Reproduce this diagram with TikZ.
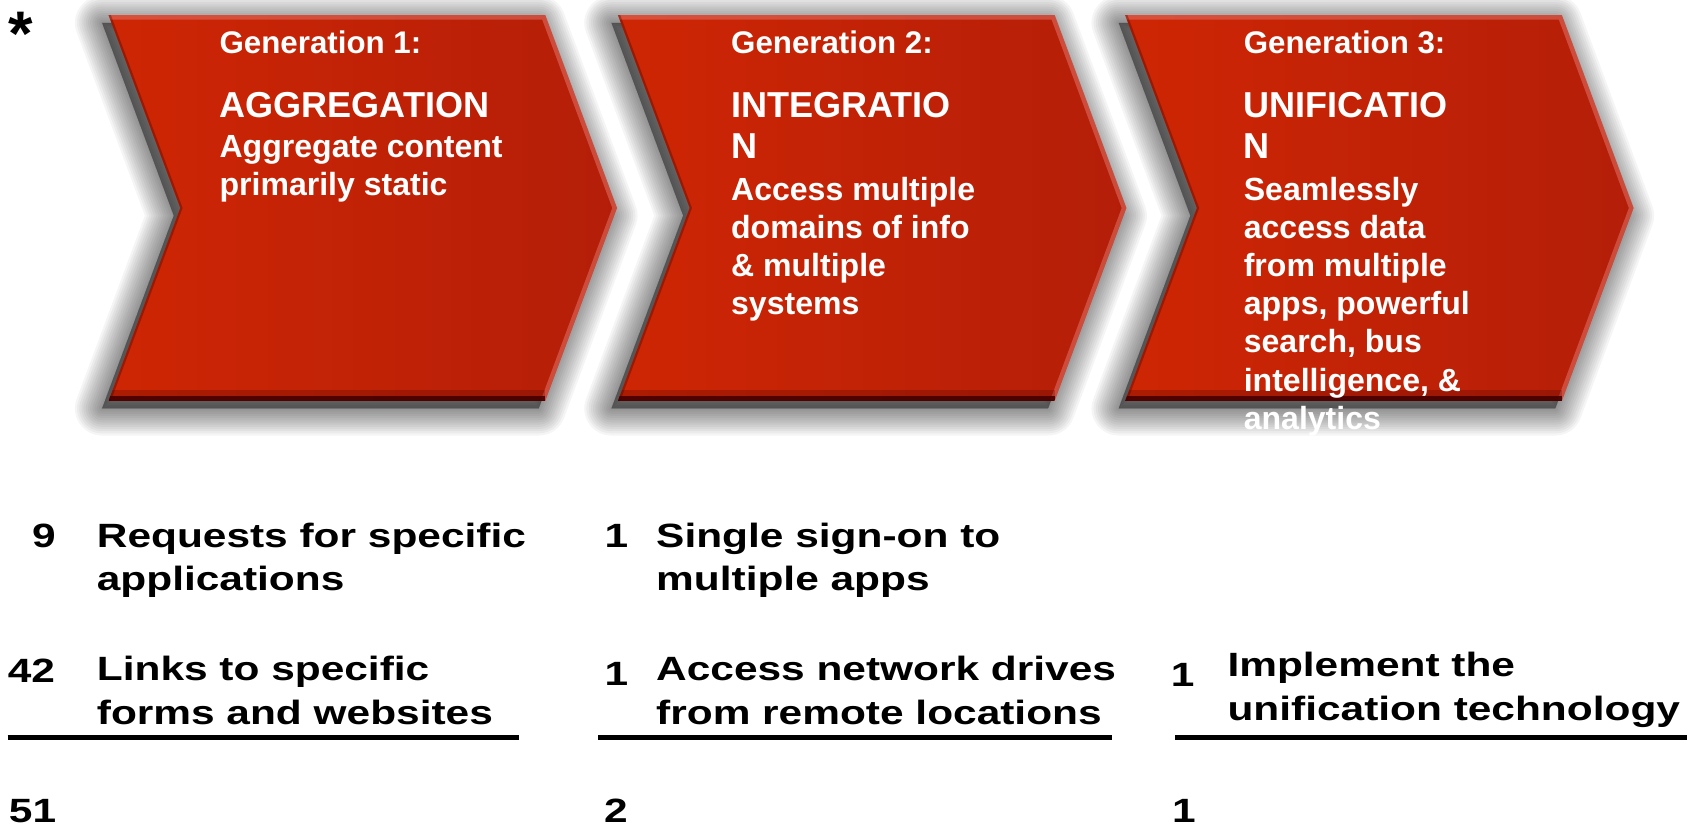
\documentclass[tikz,border=0pt]{standalone}
\usepackage{fontspec}
\setmainfont{Liberation Sans}
\newfontfamily\sirokyfont[FakeStretch=1.26]{Liberation Sans}

\definecolor{sipkaL}{RGB}{206,38,4}
\definecolor{sipkaP}{RGB}{180,30,8}
\definecolor{hrana}{RGB}{70,0,0}
\definecolor{lesk}{RGB}{228,122,112}

\newcommand\hlavicka{\fontsize{28.8}{34}\selectfont\bfseries}
\newcommand\nadpis{\fontsize{33.2}{38}\selectfont\bfseries}
\newcommand\popis{\fontsize{29.5}{35}\selectfont\bfseries}
\newcommand\polozka{\sirokyfont\fontsize{31}{40}\selectfont\bfseries}

\tikzstyle{gen}=[text=white, font=\hlavicka, inner sep=0pt, anchor=base west]
\tikzstyle{nazev}=[text=white, font=\nadpis, align=left, inner sep=0pt, anchor=base west]
\tikzstyle{popisek}=[text=white, font=\popis, align=left, inner sep=0pt, anchor=base west]
\tikzstyle{radek}=[font=\polozka, align=left, inner sep=0pt, anchor=base west]
\tikzstyle{pocet}=[font=\polozka, inner sep=0pt, anchor=base]
\tikzstyle{cara}=[line width=4.5pt]

\begin{document}
\begin{tikzpicture}[x=1pt, y=-1pt]
            \fill[white] (0,0) rectangle (1568,761);
            \useasboundingbox (0,0) rectangle (1568,761);

            % Šipky se stínem
            \foreach \l in {100,569,1036} {
                \pgfmathsetmacro\n{\l+66}
                \pgfmathsetmacro\r{\l+402}
                \pgfmathsetmacro\t{\l+468}
                \foreach \w in {2,6,...,50}
                    \filldraw[black, opacity=0.04, line width=\w pt, line join=round, shift={(-6,7)}]
                        (\l,14) -- (\r,14) -- (\t,191.5) -- (\r,369) -- (\l,369) -- (\n,191.5) -- cycle;
                \shade[left color=sipkaL, right color=sipkaP]
                    (\l,14) -- (\r,14) -- (\t,191.5) -- (\r,369) -- (\l,369) -- (\n,191.5) -- cycle;
                \begin{scope}
                    \clip (\l,14) -- (\r,14) -- (\t,191.5) -- (\r,369) -- (\l,369) -- (\n,191.5) -- cycle;
                    \draw[lesk, line width=8pt, opacity=0.5] (\l,14) -- (\r,14) -- (\t,191.5) -- (\r,369);
                    \draw[hrana, line width=20pt, opacity=0.25] (\l,369) -- (\r,369);
                    \draw[hrana, line width=9pt, opacity=0.9] (\l,369) -- (\r,369);
                    \draw[hrana, line width=4pt, opacity=0.35] (\l,14) -- (\n,191.5) -- (\l,369);
                \end{scope}
            }

            % Texty v šipkách
            \node[gen] (G1) at (202,49) {Generation 1:};
            \node[nazev] (N1) at (202,108) {AGGREGATION};
            \node[popisek] (P1) at (202,180) {Aggregate content\\primarily static};
            \node[gen] (G2) at (673,49) {Generation 2:};
            \node[nazev] (N2) at (673,146) {INTEGRATIO\\N};
            \node[popisek] (P2) at (673,290) {Access multiple\\domains of info\\\& multiple\\systems};
            \node[gen] (G3) at (1145,49) {Generation 3:};
            \node[nazev] (N3) at (1145,146) {UNIFICATIO\\N};
            \node[popisek] (P3) at (1145,395) {Seamlessly\\access data\\from multiple\\apps, powerful\\search, bus\\intelligence, \&\\analytics};

            % Hvězdička
            \node[font=\fontsize{58}{60}\selectfont\bfseries, inner sep=0pt, anchor=base west] (H) at (8,51) {*};

            % Položky a počty
            \node[radek] (R1) at (89,544) {Requests for specific\\applications};
            \node[radek] (R2) at (89,667) {Links to specific\\forms and websites};
            \node[radek] (R3) at (604,544) {Single sign-on to\\multiple apps};
            \node[radek] (R4) at (604,667) {Access network drives\\from remote locations};
            \node[radek] (R5) at (1130,663) {Implement the\\unification technology};

            \node[pocet] (C1) at (40.5,504) {9};
            \node[pocet] (C2) at (29,628) {42};
            \node[pocet] (C3) at (567.5,504) {1};
            \node[pocet] (C4) at (567.5,631) {1};
            \node[pocet] (C5) at (1089,632) {1};

            % Součty
            \draw[cara] (7,679) -- (478,679);
            \draw[cara] (551,679) -- (1024,679);
            \draw[cara] (1082,679) -- (1553,679);
            \node[pocet] (S1) at (30,757) {51};
            \node[pocet] (S2) at (567,757) {2};
            \node[pocet] (S3) at (1090,757) {1};
        \end{tikzpicture}
\end{document}
